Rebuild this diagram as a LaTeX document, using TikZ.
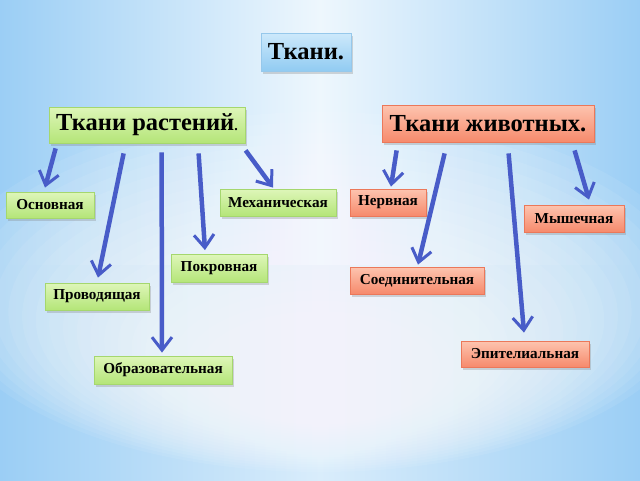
\documentclass[tikz,border=0pt]{standalone}
\usepackage{fontspec}
\setmainfont{Liberation Serif}
\usetikzlibrary{arrows.meta,calc,shadows}
\definecolor{skyb}{RGB}{155,206,245}
\definecolor{skyl}{RGB}{238,247,253}
\definecolor{gtop}{RGB}{222,246,185}
\definecolor{gbot}{RGB}{180,229,120}
\definecolor{gbrd}{RGB}{165,215,110}
\definecolor{stop}{RGB}{253,196,175}
\definecolor{sbot}{RGB}{246,138,108}
\definecolor{sbrd}{RGB}{235,120,90}
\definecolor{btop}{RGB}{205,233,251}
\definecolor{bbot}{RGB}{145,203,242}
\definecolor{bbrd}{RGB}{150,200,235}
\definecolor{arrblue}{RGB}{72,92,200}
\tikzset{
  box/.style={rectangle, inner sep=0pt, text=black, font=\bfseries,
    drop shadow={shadow xshift=1.5pt, shadow yshift=-2.5pt, opacity=0.3}},
  gbox/.style={box, top color=gtop, bottom color=gbot, draw=gbrd, line width=0.8pt},
  sbox/.style={box, top color=stop, bottom color=sbot, draw=sbrd, line width=0.8pt},
  tbox/.style={box, top color=btop, bottom color=bbot, draw=bbrd, line width=0.8pt},
  bigtxt/.style={font=\bfseries\fontsize{24.5}{26}\selectfont},
  smtxt/.style={font=\bfseries\fontsize{15.2}{16}\selectfont},
  arr/.style={draw=arrblue, line width=4.5pt,
    -{Straight Barb[length=13pt,width=20pt,line width=3pt]}}
}
\begin{document}
\begin{tikzpicture}[x=1pt,y=-1pt]
\useasboundingbox (0,0) rectangle (640,480);
% background
\fill[skyb] (0,0) rectangle (640,480);
\shade[left color=skyb, right color=skyb, middle color=skyl] (0,0) rectangle (640,265);
\shade[left color=skyb, right color=skyb, middle color=skyl!75!skyb] (0,265) rectangle (640,480);
\foreach \k in {0,...,19} {
  \fill[white, fill opacity=0.075] (320,{292+4*\k}) ellipse [x radius={380*(1-0.036*\k)}, y radius={180*(1-0.036*\k)}];
}

% nodes
\node[tbox, bigtxt, minimum width=90pt, minimum height=38pt] (title) at (306,52) {Ткани.};
\node[gbox, bigtxt, minimum width=196pt, minimum height=36pt] (plants) at (147,125) {Ткани растений{\fontsize{14}{14}\selectfont .}};
\node[sbox, bigtxt, minimum width=212pt, minimum height=37pt] (animals) at (488,123.5) {Ткани животных.};

\node[gbox, smtxt, minimum width=88pt, minimum height=26pt] (osn) at (50,205) {Основная};
\node[gbox, smtxt, minimum width=116pt, minimum height=27pt] (mekh) at (278,202.5) {Механическая};
\node[gbox, smtxt, minimum width=96pt, minimum height=28pt] (pokr) at (219,268.5) {Покровная};
\node[gbox, smtxt, minimum width=104pt, minimum height=27pt] (prov) at (97,296.5) {Проводящая};
\node[gbox, smtxt, minimum width=138pt, minimum height=28pt] (obr) at (163,370) {Образовательная};

\node[sbox, smtxt, minimum width=76pt, minimum height=27pt] (nerv) at (388,202.5) {Нервная};
\node[sbox, smtxt, minimum width=100pt, minimum height=27pt] (mysh) at (574,218.5) {Мышечная};
\node[sbox, smtxt, minimum width=134pt, minimum height=27pt] (soed) at (417,280.5) {Соединительная};
\node[sbox, smtxt, minimum width=128pt, minimum height=26pt] (epit) at (525,354) {Эпителиальная};

% arrows
\draw[arr] ($(plants.south west)+(7,5)$) -- ($(osn.north)+(-5,-4)$);
\draw[arr] ($(plants.south west)+(75,10)$) -- ($(prov.north)+(1,-5)$);
\draw[arr] ($(plants.south west)+(113,9)$) -- ($(obr.north)+(-1,-3)$);
\draw[arr] ($(plants.south west)+(150,10)$) -- ($(pokr.north)+(-14,-4)$);
\draw[arr] ($(plants.south west)+(197,7)$) -- ($(mekh.north)+(-5,-1)$);

\draw[arr] ($(animals.south west)+(15,8)$) -- ($(nerv.north)+(3,-2)$);
\draw[arr] ($(animals.south west)+(63,11)$) -- ($(soed.north)+(1,-2)$);
\draw[arr] ($(animals.south west)+(127,11)$) -- ($(epit.north)+(-1,-8)$);
\draw[arr] ($(animals.south west)+(193,8)$) -- ($(mysh.north)+(15,-5)$);
\end{tikzpicture}
\end{document}
